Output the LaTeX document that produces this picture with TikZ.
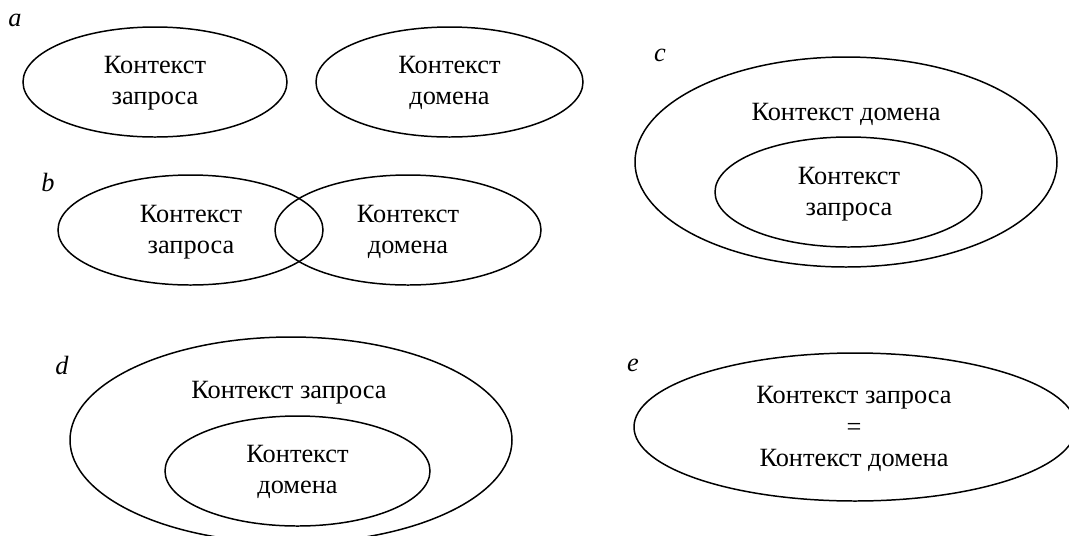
\documentclass[tikz,border=0pt]{standalone}
\usepackage{fontspec}
\setmainfont{Liberation Serif}
\usepackage{tikz}

\begin{document}
\begin{tikzpicture}[x=0.02cm,y=-0.02cm,line width=0.85pt,
    lbl/.style={font=\fontsize{15}{17.8}\selectfont\itshape},
    txt/.style={align=center,inner sep=0pt,font=\fontsize{15}{17.8}\selectfont}]
    \clip (0,0) rectangle (1069,535);

    % a
    \node[lbl] (la) at (15,20) {a};
    \draw (155,82) ellipse [x radius=132, y radius=55] ; \node[txt] (a1) at (155,83) {Контекст\\запроса};
    \draw (449.5,82) ellipse [x radius=133.5, y radius=55] ; \node[txt] (a2) at (449.5,83) {Контекст\\домена};

    % b
    \node[lbl] (lb) at (48,182) {b};
    \draw (190.5,230) ellipse [x radius=132.5, y radius=55] ; \node[txt] (b1) at (191,232) {Контекст\\запроса};
    \draw (408,230) ellipse [x radius=133, y radius=55] ; \node[txt] (b2) at (408,232) {Контекст\\домена};

    % c
    \node[lbl] (lc) at (660,55) {c};
    \draw (846,162) ellipse [x radius=211, y radius=105] ; \node[txt] (c1) at (846,114) {Контекст домена};
    \draw (848.5,192) ellipse [x radius=133.5, y radius=55] ; \node[txt] (c2) at (849,194) {Контекст\\запроса};

    % d
    \node[lbl] (ld) at (62,365) {d};
    \draw (291,440) ellipse [x radius=221, y radius=103] ; \node[txt] (d1) at (289,393) {Контекст запроса};
    \draw (297.5,471) ellipse [x radius=132.5, y radius=55] ; \node[txt] (d2) at (297.5,472) {Контекст\\домена};

    % e
    \node[lbl] (le) at (633,365) {e};
    \draw (855,427) ellipse [x radius=221, y radius=74] ; \node[txt] (e1) at (854,429) {Контекст запроса\\=\\Контекст домена};
\end{tikzpicture}
\end{document}
